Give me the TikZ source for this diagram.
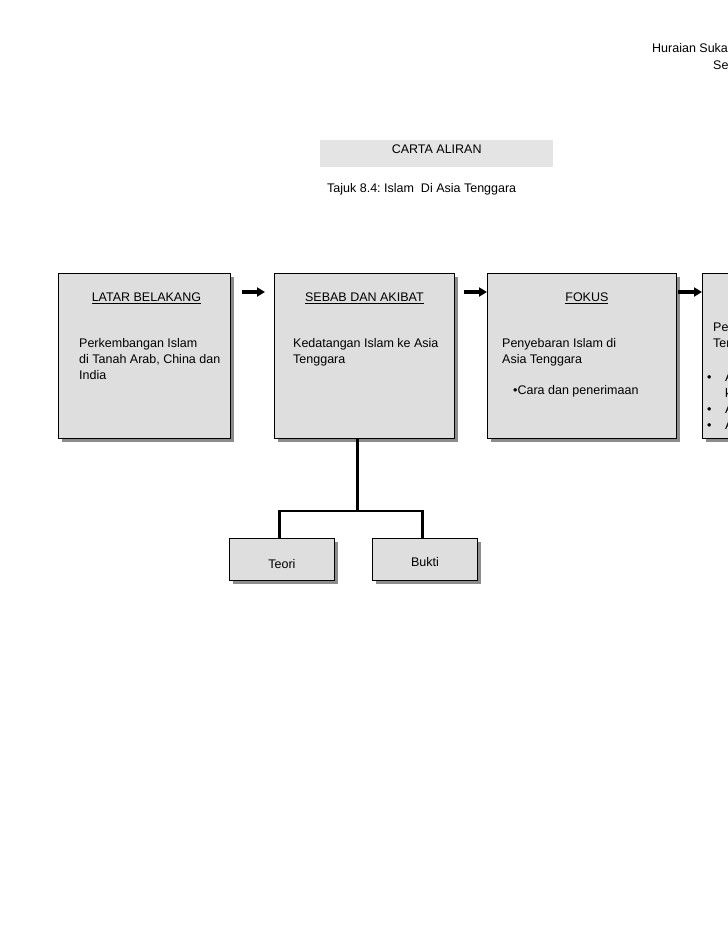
\documentclass[tikz,border=0pt]{standalone}
\usepackage{fontspec}
\setmainfont{Liberation Sans}
\usetikzlibrary{arrows.meta,shadows,positioning}
\definecolor{boxfill}{RGB}{222,222,222}
\definecolor{bandfill}{RGB}{228,228,228}
\definecolor{shade}{RGB}{140,140,140}

\tikzset{
  topicbox/.style={draw=black,fill=boxfill,line width=0.8pt,inner sep=0pt,anchor=north west,
    drop shadow={shadow xshift=4pt,shadow yshift=-4pt,fill=shade,opacity=1}},
  heading/.style={font=\fontsize{12.5}{14}\selectfont},
  bodytext/.style={anchor=north west,inner sep=0pt,align=left,
    font=\fontsize{12.5}{16}\selectfont},
  flow/.style={line width=3.5pt,-{Triangle[length=8pt,width=9pt]}},
  branch/.style={line width=2.6pt}
}

\begin{document}
\begin{tikzpicture}[x=1pt,y=-1pt,line cap=butt,line join=miter]
  \fill[white] (0,0) rectangle (728,943);
  \useasboundingbox (0,0) rectangle (728,943);
  \clip (0,0) rectangle (728,943);

  % page header
  \node[heading,anchor=base west,inner sep=0pt] (huraian) at (652,52) {Huraian Sukatan Pelajaran};
  \node[heading,anchor=base west,inner sep=0pt] (sejarah) at (713,69) {Sejarah Tingkatan 2};

  % title band
  \node[fill=bandfill,anchor=north west,inner sep=0pt,
    minimum width=233pt,minimum height=27pt] (band) at (320,140) {};
  \node[heading] (carta) at ([yshift=4.5pt]band.center) {CARTA\ ALIRAN};
  \node[heading,anchor=west,inner sep=0pt] (tajuk) at (327,189) {Tajuk 8.4:\ Islam\ \ Di Asia Tenggara};

  % main boxes
  \node[topicbox,minimum width=172pt,minimum height=165pt] (latar) at (58,273) {};
  \node[topicbox,minimum width=180pt,minimum height=165pt] (sebab) at (274,273) {};
  \node[topicbox,minimum width=189pt,minimum height=165pt] (fokus) at (487,273) {};
  \node[topicbox,minimum width=180pt,minimum height=165pt] (pengaruh) at (702,273) {};

  \node[heading] at ([xshift=2pt,yshift=-25pt]latar.north) {\underline{LATAR BELAKANG}};
  \node[heading] at ([yshift=-25pt]sebab.north) {\underline{SEBAB DAN AKIBAT}};
  \node[heading] at ([xshift=5pt,yshift=-25pt]fokus.north) {\underline{FOKUS}};

  \node[bodytext] at ([xshift=21pt,yshift=-63pt]latar.north west)
    {\strut Perkembangan Islam\\di Tanah Arab, China dan\\India};
  \node[bodytext] at ([xshift=19pt,yshift=-63pt]sebab.north west)
    {\strut Kedatangan Islam ke Asia\\Tenggara};
  \node[bodytext] at ([xshift=15pt,yshift=-63pt]fokus.north west)
    {\strut Penyebaran Islam di\\Asia Tenggara\\[15pt]\hspace*{11pt}•Cara dan penerimaan};
  \node[bodytext] at ([xshift=11pt,yshift=-47pt]pengaruh.north west)
    {\strut Pengaruh Islam di Asia\\Tenggara\\[18pt]%
     \hspace*{-6pt}\makebox[18pt][l]{•}Agama dan\\%
     \hspace*{12pt}kepercayaan\\%
     \hspace*{-6pt}\makebox[18pt][l]{•}Adat resam\\%
     \hspace*{-6pt}\makebox[18pt][l]{•}Amalan hidup};

  % arrows between boxes
  \draw[flow,shorten <=11pt,shorten >=9pt] ([yshift=-19pt]latar.north east) -- ([yshift=-19pt]sebab.north west);
  \draw[flow,shorten <=9pt] ([yshift=-19pt]sebab.north east) -- ([yshift=-19pt]fokus.north west);
  \draw[flow,shorten <=1pt] ([yshift=-19pt]fokus.north east) -- ([yshift=-19pt]pengaruh.north west);

  % lower boxes
  \node[topicbox,minimum width=105pt,minimum height=42pt] (teori) at (229,538) {};
  \node[topicbox,minimum width=105pt,minimum height=42pt] (bukti) at (372,538) {};
  \node[heading] at ([yshift=-5pt]teori.center) {Teori};
  \node[heading] at ([yshift=-3pt]bukti.center) {Bukti};

  % tree connector
  \coordinate (stem) at ([xshift=-7pt]sebab.south);
  \coordinate (fork) at (stem |- 0,511);
  \draw[branch] (stem) -- (fork);
  \draw[branch] ([xshift=-2.5pt]teori.north) |- (fork) -| ([xshift=-2.5pt]bukti.north);
\end{tikzpicture}
\end{document}
